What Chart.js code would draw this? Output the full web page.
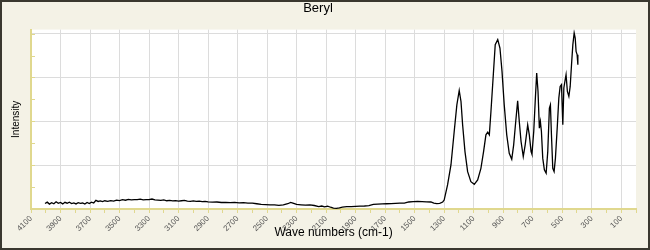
<!DOCTYPE html>
<html>
<head>
<meta charset="utf-8">
<script src="https://cdn.jsdelivr.net/npm/chart.js@4"></script>
<style>
  html, body { margin: 0; padding: 0; background: #f4f2e6; }
  canvas { display: block; }
</style>
</head>
<body>
<canvas id="myChart" width="650" height="250"></canvas>
<script>
// wave numbers (cm-1) and intensity
const waveNumbers = [
  4005, 3990, 3975, 3960, 3945, 3930, 3915, 3900, 3885, 3870, 3855, 3840, 3825, 3810, 3795, 3780,
  3765, 3750, 3735, 3720, 3705, 3690, 3675, 3660, 3645, 3630, 3615, 3600, 3580, 3560, 3540, 3520,
  3500, 3480, 3460, 3440, 3420, 3400, 3380, 3360, 3340, 3320, 3300, 3280, 3260, 3240, 3220, 3200,
  3180, 3160, 3140, 3120, 3100, 3080, 3060, 3040, 3020, 3000, 2980, 2960, 2940, 2920, 2900, 2870,
  2840, 2810, 2780, 2750, 2720, 2690, 2660, 2630, 2600, 2570, 2540, 2510, 2480, 2450, 2420, 2390,
  2360, 2340, 2320, 2300, 2270, 2240, 2210, 2180, 2150, 2130, 2110, 2090, 2070, 2050, 2030, 2010,
  1990, 1960, 1930, 1900, 1870, 1840, 1810, 1780, 1750, 1720, 1690, 1660, 1630, 1600, 1570, 1540,
  1510, 1480, 1450, 1420, 1390, 1370, 1350, 1330, 1310, 1300,
  1277, 1254, 1232, 1214, 1198, 1186, 1175, 1159, 1141, 1119, 1096, 1073, 1051, 1033, 1017, 1005,
  994, 983, 967, 954, 937, 922, 908, 893, 876, 859, 842, 829, 815, 802, 791, 779,
  764, 751, 734, 723, 711, 705, 693, 682, 673, 664, 655, 648, 641, 632, 621, 609,
  598, 587, 580, 573, 564, 555, 546, 534, 523, 514, 505, 496, 489, 480, 474, 465,
  455, 446, 437, 428, 419, 412, 406, 399, 394
];
const intensity = [
  3.1, 3.9, 2.8, 3.6, 3.0, 4.1, 3.2, 3.7, 2.9, 3.8, 3.3, 3.9, 3.1, 3.5, 2.9, 3.6,
  3.2, 3.4, 2.8, 3.7, 3.1, 3.9, 3.4, 4.9, 4.3, 4.6, 4.2, 4.7, 4.4, 4.8, 4.5, 5.1,
  4.8, 5.3, 5.0, 5.5, 5.2, 5.4, 5.3, 5.6, 5.2, 5.4, 5.3, 5.7, 5.2, 5.1, 4.9, 5.2,
  4.7, 4.9, 4.6, 4.8, 4.5, 4.7, 4.9, 4.5, 4.4, 4.6, 4.3, 4.5, 4.2, 4.4, 4.1, 3.9,
  4.0, 3.7, 3.8, 3.6, 3.8, 3.5, 3.6, 3.3, 3.4, 3.0, 2.6, 2.5, 2.3, 2.4, 2.1, 2.3,
  3.0, 3.8, 3.2, 2.6, 2.4, 2.2, 2.4, 2.0, 1.4, 1.7, 1.2, 1.6, 1.0, 0.5, 0.4, 0.6,
  1.1, 1.3, 1.4, 1.5, 1.6, 1.7, 1.9, 2.6, 2.8, 2.9, 3.0, 3.1, 3.2, 3.3, 3.4, 4.0,
  4.2, 4.3, 4.2, 4.1, 4.0, 3.3, 3.1, 3.2, 4.0, 5.1,
  13.7, 25.1, 44.2, 59.4, 67.6, 61.3, 48.0, 32.7, 21.3, 15.6, 14.1, 16.6, 23.2, 32.7, 42.3, 43.8,
  42.3, 55.6, 76.6, 93.7, 96.6, 91.8, 78.5, 59.4, 42.3, 31.8, 28.4, 36.6, 49.9, 61.7, 49.9, 38.5,
  29.9, 36.6, 48.0, 42.3, 32.7, 31.2, 44.2, 63.2, 77.5, 67.0, 46.1, 49.9, 44.2, 29.0, 22.3, 20.4,
  32.7, 57.5, 59.4, 42.3, 23.2, 21.3, 29.0, 46.1, 63.2, 69.9, 70.9, 48.0, 69.0, 73.7, 76.6, 67.0,
  64.2, 69.9, 82.3, 93.7, 100.4, 97.5, 89.9, 88.0, 82.3
];

// axis ticks
const xTicks = [];
for (let v = 0; v <= 4100; v += 100) xTicks.push(v);
const yTicks = [0, 12.5, 25, 37.5, 50, 62.5, 75, 87.5, 100];

const AXIS_COLOR = "#e0d88e";
const GRID_COLOR = "#dcdcdc";
const BG_COLOR = "#f4f2e6";

const backdrop = {
  id: "backdrop",
  beforeDraw(chart) {
    const { ctx, chartArea: a } = chart;
    ctx.save();
    ctx.fillStyle = BG_COLOR;
    ctx.fillRect(0, 0, chart.width, chart.height);
    ctx.fillStyle = "#ffffff";
    ctx.fillRect(a.left, a.top, a.right - a.left, a.bottom - a.top);
    ctx.restore();
  },
  afterDraw(chart) {
    const { ctx, chartArea: a } = chart;
    const y = chart.scales.y;
    ctx.save();
    // small inward ticks on the intensity axis
    ctx.strokeStyle = AXIS_COLOR;
    ctx.lineWidth = 1;
    yTicks.forEach((t) => {
      const py = Math.round(y.getPixelForValue(t)) + 0.5;
      ctx.beginPath();
      ctx.moveTo(a.left, py);
      ctx.lineTo(a.left + 4, py);
      ctx.stroke();
    });
    // outer frame
    ctx.strokeStyle = "#3a382f";
    ctx.lineWidth = 2;
    ctx.strokeRect(1, 1, chart.width - 2, chart.height - 2);
    ctx.restore();
  },
};

const data = {
  datasets: [
    {
      label: "Beryl",
      data: waveNumbers.map((w, i) => ({ x: w, y: intensity[i] })),
      borderColor: "#000000",
      borderWidth: 1.3,
      pointRadius: 0,
      tension: 0,
    },
  ],
};

const config = {
  type: "line",
  data: data,
  options: {
    responsive: false,
    animation: false,
    devicePixelRatio: 1,
    layout: { padding: { left: 0, right: 14, top: 0, bottom: 0 } },
    plugins: {
      legend: { display: false },
      tooltip: { enabled: false },
      title: {
        display: true,
        text: "Beryl",
        color: "#000000",
        font: { family: "Liberation Sans", size: 13, weight: "normal" },
        padding: { top: 1, bottom: 13 },
      },
    },
    scales: {
      x: {
        type: "linear",
        reverse: true,
        min: 0,
        max: 4100,
        afterBuildTicks: (scale) => {
          scale.ticks = xTicks.map((v) => ({ value: v }));
        },
        afterFit: (scale) => {
          scale.height = 41;
        },
        ticks: {
          autoSkip: false,
          minRotation: 45,
          maxRotation: 45,
          padding: 1,
          color: "#555555",
          font: { family: "Liberation Sans", size: 8 },
          callback: (value) => (value % 200 === 100 ? String(value) : ""),
        },
        grid: {
          color: (ctx) => (ctx.tick && ctx.tick.value % 200 === 100 ? GRID_COLOR : "rgba(0,0,0,0)"),
          tickColor: AXIS_COLOR,
          tickLength: 4,
          lineWidth: 1,
        },
        border: { color: AXIS_COLOR, width: 2 },
        title: {
          display: true,
          text: "Wave numbers (cm-1)",
          color: "#000000",
          font: { family: "Liberation Sans", size: 12 },
          padding: { top: 0, bottom: 10 },
        },
      },
      y: {
        min: 0,
        max: 102.3,
        afterBuildTicks: (scale) => {
          scale.ticks = yTicks.map((v) => ({ value: v }));
        },
        afterFit: (scale) => {
          scale.width = 31;
        },
        ticks: { display: false },
        grid: {
          color: (ctx) => (ctx.tick && ctx.tick.value % 25 === 0 ? GRID_COLOR : "rgba(0,0,0,0)"),
          drawTicks: false,
          lineWidth: 1,
        },
        border: { color: AXIS_COLOR, width: 2 },
        title: {
          display: true,
          text: "Intensity",
          color: "#000000",
          font: { family: "Liberation Sans", size: 10 },
          padding: { top: 10, bottom: 0 },
        },
      },
    },
  },
  plugins: [backdrop],
};

const chart = new Chart(document.getElementById("myChart"), config);
</script>
</body>
</html>
